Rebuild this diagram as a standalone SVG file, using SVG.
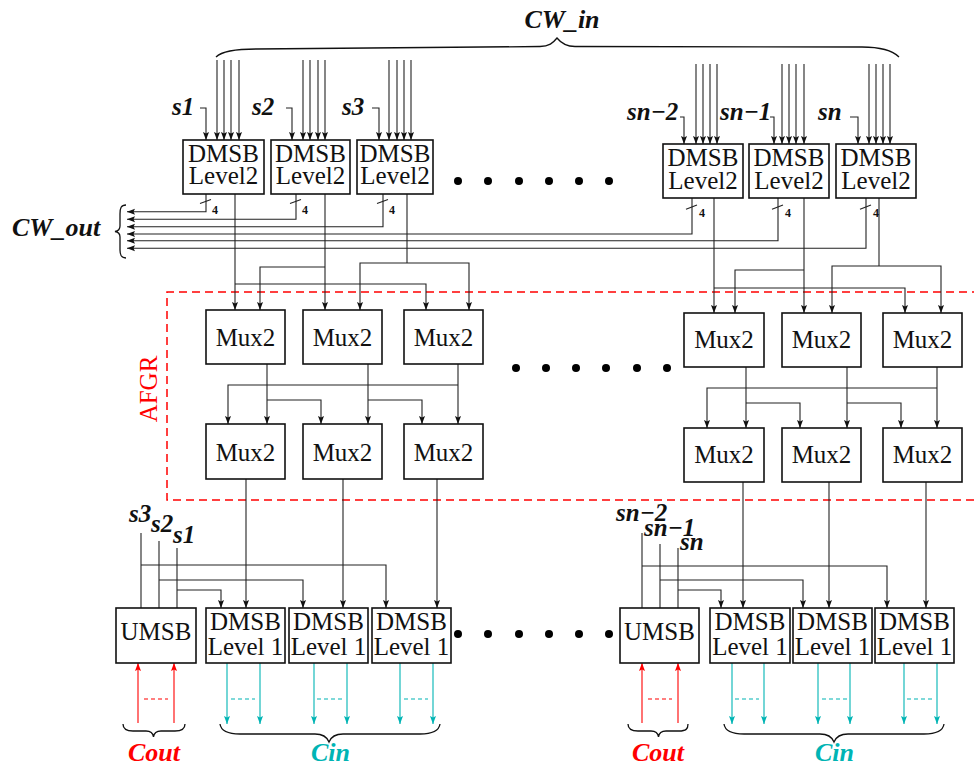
<svg xmlns="http://www.w3.org/2000/svg" width="974" height="771" viewBox="0 0 974 771">
<style>
.box{fill:#fff;stroke:#111;stroke-width:1.6}
.t{font-family:"Liberation Serif",serif;font-size:25px;fill:#111;text-anchor:middle}
.sig{font-family:"Liberation Serif",serif;font-size:25px;font-weight:bold;font-style:italic;fill:#111}
.big{font-family:"Liberation Serif",serif;font-size:26px;font-weight:bold;font-style:italic}
.four{font-family:"Liberation Serif",serif;font-size:12px;font-weight:bold;fill:#111}
.w{fill:none;stroke:#222;stroke-width:1.1}
.a{marker-end:url(#ah)}
.br{fill:none;stroke:#111;stroke-width:1.3}
.red{fill:none;stroke:#ff0000;stroke-width:1.1}
.teal{fill:none;stroke:#00b4b4;stroke-width:1.1}
.dot{fill:#000}
</style>
<defs>
<marker id="ah" markerWidth="9" markerHeight="7" refX="8" refY="3.5" orient="auto" markerUnits="userSpaceOnUse"><path d="M0,0.5 L8,3.5 L0,6.5 L1.5,3.5 z" fill="#111"/></marker>
<marker id="ahr" markerWidth="9" markerHeight="7" refX="8" refY="3.5" orient="auto" markerUnits="userSpaceOnUse"><path d="M0,0.5 L8,3.5 L0,6.5 L1.5,3.5 z" fill="#ff0000"/></marker>
<marker id="aht" markerWidth="9" markerHeight="7" refX="8" refY="3.5" orient="auto" markerUnits="userSpaceOnUse"><path d="M0,0.5 L8,3.5 L0,6.5 L1.5,3.5 z" fill="#00b4b4"/></marker>
</defs>
<rect width="974" height="771" fill="#fff"/>

<!-- AFGR region -->
<g id="afgr">
<path d="M980,292 H167 V500 H980" fill="none" stroke="#ff0000" stroke-width="1.5" stroke-dasharray="8 5"/>
<text transform="translate(157,389) rotate(-90)" style="font-family:'Liberation Serif',serif;font-size:25px;fill:#ff0000;text-anchor:middle">AFGR</text>
</g>

<g id="connectors">
<!-- CW_in inputs left -->
<path class="w a" d="M200,108 H206 V140"/>
<path class="w a" d="M217,60 V140"/><path class="w a" d="M224,60 V140"/><path class="w a" d="M231,60 V140"/><path class="w a" d="M239,60 V140"/>
<path class="w a" d="M286,108 H292 V140"/>
<path class="w a" d="M303,60 V140"/><path class="w a" d="M310,60 V140"/><path class="w a" d="M318,60 V140"/><path class="w a" d="M325,60 V140"/>
<path class="w a" d="M372,108 H379 V140"/>
<path class="w a" d="M389,60 V140"/><path class="w a" d="M397,60 V140"/><path class="w a" d="M404,60 V140"/><path class="w a" d="M411,60 V140"/>
<!-- right -->
<path class="w a" d="M680,117 H684 V144"/>
<path class="w a" d="M696,64 V144"/><path class="w a" d="M703,64 V144"/><path class="w a" d="M710,64 V144"/><path class="w a" d="M717,64 V144"/>
<path class="w a" d="M770,117 H774 V144"/>
<path class="w a" d="M782,64 V144"/><path class="w a" d="M789,64 V144"/><path class="w a" d="M796,64 V144"/><path class="w a" d="M804,64 V144"/>
<path class="w a" d="M850,117 H858 V144"/>
<path class="w a" d="M869,64 V144"/><path class="w a" d="M876,64 V144"/><path class="w a" d="M883,64 V144"/><path class="w a" d="M890,64 V144"/>

<!-- CW_out -->
<path class="w a" d="M206,194 V211.7 H127"/>
<path class="w a" d="M296,194 V219.3 H127"/>
<path class="w a" d="M383,194 V226.7 H127"/>
<path class="w a" d="M692,198 V234 H127"/>
<path class="w a" d="M778,198 V240.7 H127"/>
<path class="w a" d="M866,198 V248.3 H127"/>
<path class="w" d="M200,203.5 L211,199.5"/><path class="w" d="M290,203.5 L301,199.5"/><path class="w" d="M377,203.5 L388,199.5"/>
<path class="w" d="M686,209.3 L697,205"/><path class="w" d="M772,209.3 L783,205"/><path class="w" d="M860,209.3 L871,205"/>

<!-- to top mux left -->
<path class="w a" d="M235,194 V310"/>
<path class="w a" d="M235,284 H426 V310"/>
<path class="w a" d="M325,194 V310"/>
<path class="w a" d="M325,267 H260 V310"/>
<path class="w" d="M407,194 V263"/>
<path class="w a" d="M407,263 H360 V310"/>
<path class="w a" d="M407,263 H469 V310"/>
<!-- to top mux right -->
<path class="w a" d="M714,198 V313"/>
<path class="w a" d="M714,288 H905 V313"/>
<path class="w a" d="M804,198 V313"/>
<path class="w a" d="M804,270 H735 V313"/>
<path class="w" d="M879,198 V266"/>
<path class="w a" d="M879,266 H832 V313"/>
<path class="w a" d="M879,266 H941 V313"/>

<!-- mux to mux left -->
<path class="w a" d="M267,364 V424"/>
<path class="w a" d="M267,400 H321 V424"/>
<path class="w a" d="M368,364 V424"/>
<path class="w a" d="M368,400 H422 V424"/>
<path class="w a" d="M458,364 V424"/>
<path class="w a" d="M458,385 H228 V424"/>
<!-- mux to mux right -->
<path class="w a" d="M746,367 V428"/>
<path class="w a" d="M746,403 H800 V428"/>
<path class="w a" d="M847,367 V428"/>
<path class="w a" d="M847,403 H901 V428"/>
<path class="w a" d="M937,367 V428"/>
<path class="w a" d="M937,388 H707 V428"/>

<!-- mux to DMSB level1 -->
<path class="w a" d="M246,479 V608"/><path class="w a" d="M343,479 V608"/><path class="w a" d="M437,479 V608"/>
<path class="w a" d="M743,482 V608"/><path class="w a" d="M829,482 V608"/><path class="w a" d="M926,482 V608"/>

<!-- s lines bottom left -->
<path class="w" d="M141,533 V608"/><path class="w" d="M159,541 V608"/><path class="w" d="M177,548 V608"/>
<path class="w a" d="M141,565 H386 V608"/>
<path class="w a" d="M159,580 H303 V608"/>
<path class="w a" d="M177,590 H221 V608"/>
<!-- right -->
<path class="w" d="M642,533 V608"/><path class="w" d="M660,544 V608"/><path class="w" d="M678,548 V608"/>
<path class="w a" d="M642,566 H887 V608"/>
<path class="w a" d="M660,580 H803 V608"/>
<path class="w a" d="M678,590 H721 V608"/>

<!-- Cout / Cin -->
<path class="red" d="M138,723 V663" marker-end="url(#ahr)"/><path class="red" d="M174,723 V663" marker-end="url(#ahr)"/>
<path class="red" d="M144,699 H168" stroke-dasharray="4 3"/>
<path class="red" d="M642,723 V663" marker-end="url(#ahr)"/><path class="red" d="M678,723 V663" marker-end="url(#ahr)"/>
<path class="red" d="M648,699 H672" stroke-dasharray="4 3"/>
<path class="teal" d="M227,663 V724" marker-end="url(#aht)"/><path class="teal" d="M260,663 V724" marker-end="url(#aht)"/>
<path class="teal" d="M314,663 V724" marker-end="url(#aht)"/><path class="teal" d="M347,663 V724" marker-end="url(#aht)"/>
<path class="teal" d="M400,663 V724" marker-end="url(#aht)"/><path class="teal" d="M433,663 V724" marker-end="url(#aht)"/>
<path class="teal" d="M732,663 V724" marker-end="url(#aht)"/><path class="teal" d="M764,663 V724" marker-end="url(#aht)"/>
<path class="teal" d="M818,663 V724" marker-end="url(#aht)"/><path class="teal" d="M850,663 V724" marker-end="url(#aht)"/>
<path class="teal" d="M904,663 V724" marker-end="url(#aht)"/><path class="teal" d="M937,663 V724" marker-end="url(#aht)"/>
<g stroke-dasharray="4 3">
<path class="teal" d="M231,699 H255"/><path class="teal" d="M317,699 H342"/><path class="teal" d="M404,699 H428"/>
<path class="teal" d="M735,699 H759"/><path class="teal" d="M822,699 H847"/><path class="teal" d="M907,699 H932"/>
</g>
</g>

<!-- braces -->
<g id="braces">
<path class="br" d="M216,57 C222,51 236,49 256,49 L540,46.5 C549,46.5 553,43 557,38 C561,43 566,46.5 575,46.5 L862,47 C882,47 893,51 899,57"/>
<path class="br" d="M126,205 C121,205 120,208 120,214 L120,226 C120,229 118,231 115,231.5 C118,232 120,234 120,237 L120,250 C120,255 121,258 126,258"/>
<path class="br" d="M123,724 C123,729 126,731 133,731 L146,731 C150,731 153,733 153.5,737 C154,733 157,731 161,731 L175,731 C182,731 185,729 185,724"/>
<path class="br" d="M220,724 C221,731 228,734 240,734 L315,734 C323,734 327,737 329,742 C331,737 335,734 343,734 L420,734 C432,734 439,731 440,724"/>
<path class="br" d="M628,724 C628,729 631,731 638,731 L651,731 C655,731 658,733 658.5,737 C659,733 662,731 666,731 L679,731 C686,731 688,729 688,724"/>
<path class="br" d="M724,724 C725,731 732,734 744,734 L820,734 C828,734 832,737 834,742 C836,737 840,734 848,734 L924,734 C936,734 943,731 944,724"/>
</g>

<!-- labels -->
<g id="labels">
<text class="big" x="562" y="28" text-anchor="middle" fill="#111">CW_in</text>
<text class="big" x="12" y="236" fill="#111">CW_out</text>
<text class="sig" x="172" y="115">s1</text>
<text class="sig" x="252" y="115">s2</text>
<text class="sig" x="342" y="115">s3</text>
<text class="sig" x="627" y="120">sn−2</text>
<text class="sig" x="720" y="120">sn−1</text>
<text class="sig" x="818" y="120">sn</text>
<text class="four" x="212" y="214">4</text><text class="four" x="302" y="214">4</text><text class="four" x="389" y="214">4</text>
<text class="four" x="699" y="217">4</text><text class="four" x="785" y="217">4</text><text class="four" x="873" y="217">4</text>
<text class="sig" x="129" y="522">s3</text>
<text class="sig" x="151" y="532">s2</text>
<text class="sig" x="173" y="543">s1</text>
<text class="sig" x="616" y="521">sn−2</text>
<text class="sig" x="644" y="536">sn−1</text>
<text class="sig" x="680" y="550">sn</text>
<text class="big" x="128" y="761" fill="#ff0000">Cout</text>
<text class="big" x="311" y="761" fill="#00b4b4">Cin</text>
<text class="big" x="632" y="761" fill="#ff0000">Cout</text>
<text class="big" x="815" y="761" fill="#00b4b4">Cin</text>
</g>

<g id="dots">
<circle class="dot" cx="458" cy="181" r="4"/><circle class="dot" cx="488" cy="181" r="4"/><circle class="dot" cx="519" cy="181" r="4"/><circle class="dot" cx="549" cy="181" r="4"/><circle class="dot" cx="579" cy="181" r="4"/><circle class="dot" cx="609" cy="181" r="4"/>
<circle class="dot" cx="516" cy="368" r="4"/><circle class="dot" cx="546" cy="368" r="4"/><circle class="dot" cx="576" cy="368" r="4"/><circle class="dot" cx="606" cy="368" r="4"/><circle class="dot" cx="637" cy="368" r="4"/><circle class="dot" cx="667" cy="368" r="4"/>
<circle class="dot" cx="458" cy="634" r="4"/><circle class="dot" cx="488" cy="634" r="4"/><circle class="dot" cx="519" cy="634" r="4"/><circle class="dot" cx="549" cy="634" r="4"/><circle class="dot" cx="579" cy="634" r="4"/><circle class="dot" cx="609" cy="634" r="4"/>
</g>

<!-- DMSB Level2 -->
<g id="dmsb2_1"><rect class="box" x="183" y="140" width="81" height="54"/><text class="t" x="223.5" y="162">DMSB</text><text class="t" x="223.5" y="184">Level2</text></g>
<g id="dmsb2_2"><rect class="box" x="271" y="140" width="79" height="54"/><text class="t" x="310.5" y="162">DMSB</text><text class="t" x="310.5" y="184">Level2</text></g>
<g id="dmsb2_3"><rect class="box" x="357" y="140" width="76" height="54"/><text class="t" x="395" y="162">DMSB</text><text class="t" x="395" y="184">Level2</text></g>
<g id="dmsb2_n2"><rect class="box" x="663" y="144" width="80" height="54"/><text class="t" x="703" y="166">DMSB</text><text class="t" x="703" y="189">Level2</text></g>
<g id="dmsb2_n1"><rect class="box" x="749" y="144" width="80" height="54"/><text class="t" x="789" y="166">DMSB</text><text class="t" x="789" y="189">Level2</text></g>
<g id="dmsb2_n"><rect class="box" x="836" y="144" width="80" height="54"/><text class="t" x="876" y="166">DMSB</text><text class="t" x="876" y="189">Level2</text></g>

<!-- Mux2 -->
<g id="mux_a1"><rect class="box" x="206" y="310" width="79" height="54"/><text class="t" x="245.5" y="346">Mux2</text></g>
<g id="mux_b1"><rect class="box" x="303" y="310" width="79" height="54"/><text class="t" x="342.5" y="346">Mux2</text></g>
<g id="mux_c1"><rect class="box" x="404" y="310" width="79" height="54"/><text class="t" x="443.5" y="346">Mux2</text></g>
<g id="mux_a2"><rect class="box" x="206" y="424" width="79" height="55"/><text class="t" x="245.5" y="461">Mux2</text></g>
<g id="mux_b2"><rect class="box" x="303" y="424" width="79" height="55"/><text class="t" x="342.5" y="461">Mux2</text></g>
<g id="mux_c2"><rect class="box" x="404" y="424" width="79" height="55"/><text class="t" x="443.5" y="461">Mux2</text></g>
<g id="mux_d1"><rect class="box" x="684" y="313" width="80" height="54"/><text class="t" x="724" y="348">Mux2</text></g>
<g id="mux_e1"><rect class="box" x="782" y="313" width="79" height="54"/><text class="t" x="821.5" y="348">Mux2</text></g>
<g id="mux_f1"><rect class="box" x="883" y="313" width="79" height="54"/><text class="t" x="922.5" y="348">Mux2</text></g>
<g id="mux_d2"><rect class="box" x="684" y="428" width="80" height="54"/><text class="t" x="724" y="463">Mux2</text></g>
<g id="mux_e2"><rect class="box" x="782" y="428" width="79" height="54"/><text class="t" x="821.5" y="463">Mux2</text></g>
<g id="mux_f2"><rect class="box" x="883" y="428" width="79" height="54"/><text class="t" x="922.5" y="463">Mux2</text></g>

<!-- bottom -->
<g id="umsb_1"><rect class="box" x="116" y="608" width="80" height="55"/><text class="t" x="156" y="640">UMSB</text></g>
<g id="dmsb1_1"><rect class="box" x="206" y="608" width="79" height="55"/><text class="t" x="245.5" y="630">DMSB</text><text class="t" x="245.5" y="655">Level 1</text></g>
<g id="dmsb1_2"><rect class="box" x="289" y="608" width="79" height="55"/><text class="t" x="328.5" y="630">DMSB</text><text class="t" x="328.5" y="655">Level 1</text></g>
<g id="dmsb1_3"><rect class="box" x="372" y="608" width="79" height="55"/><text class="t" x="411.5" y="630">DMSB</text><text class="t" x="411.5" y="655">Level 1</text></g>
<g id="umsb_n"><rect class="box" x="620" y="608" width="79" height="55"/><text class="t" x="659.5" y="640">UMSB</text></g>
<g id="dmsb1_n2"><rect class="box" x="710" y="608" width="80" height="55"/><text class="t" x="750" y="630">DMSB</text><text class="t" x="750" y="655">Level 1</text></g>
<g id="dmsb1_n1"><rect class="box" x="793" y="608" width="79" height="55"/><text class="t" x="832.5" y="630">DMSB</text><text class="t" x="832.5" y="655">Level 1</text></g>
<g id="dmsb1_n"><rect class="box" x="875" y="608" width="79" height="55"/><text class="t" x="914.5" y="630">DMSB</text><text class="t" x="914.5" y="655">Level 1</text></g>
</svg>
